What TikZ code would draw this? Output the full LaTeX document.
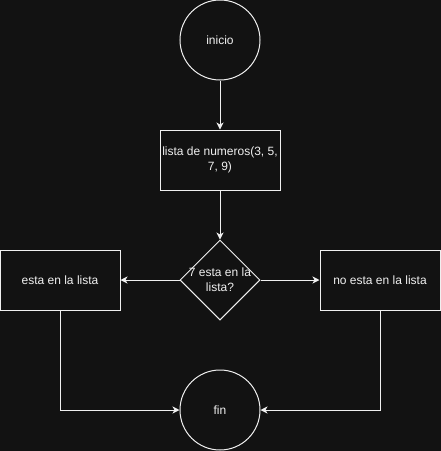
\documentclass[tikz,border=0pt]{standalone}
\usepackage{fontspec}
\setmainfont{Liberation Sans}
\usetikzlibrary{shapes.geometric,arrows.meta}
\definecolor{bgc}{RGB}{18,18,18}
\definecolor{fgc}{RGB}{240,240,240}
\tikzset{
  base/.style={draw=fgc, line width=1pt, fill=bgc, text=fgc, inner sep=0pt,
    font=\fontsize{12}{15}\selectfont, align=center},
  terminal/.style={base, circle, minimum size=80pt},
  proc/.style={base, rectangle, minimum width=120pt, minimum height=60pt},
  decision/.style={base, diamond, minimum width=80pt, minimum height=80pt},
  conn/.style={draw=fgc, line width=1pt, -{Stealth[length=7pt,width=7pt,inset=2pt]}},
}
\begin{document}
\begin{tikzpicture}[x=1pt,y=-1pt]
  \fill[bgc] (0,0) rectangle (441,451);
  \useasboundingbox (0,0) rectangle (441,451);
  \node[terminal] (ini) at (220,40) {inicio};
  \node[proc] (lst) at (220,160) {lista de numeros(3, 5,\\7, 9)};
  \node[decision, label={[text=fgc, font=\fontsize{12}{15}\selectfont, align=center]center:{7 esta en la\\lista?}}] (dec) at (220,280) {};
  \node[proc] (yes) at (60,280) {esta en la lista};
  \node[proc] (no) at (380,280) {no esta en la lista};
  \node[terminal] (fin) at (220,410) {fin};
  \draw[conn] (ini) -- (lst);
  \draw[conn] (lst) -- (dec);
  \draw[conn] (dec.west) -- (yes);
  \draw[conn] (dec.east) -- (no);
  \draw[conn] (yes.south) |- (fin.west);
  \draw[conn] (no.south) |- (fin.east);
\end{tikzpicture}
\end{document}
